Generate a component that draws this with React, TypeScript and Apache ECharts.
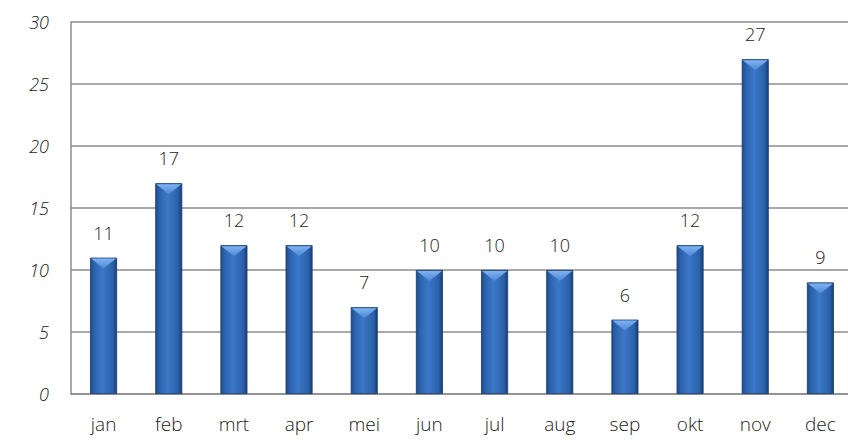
import React, { useEffect, useRef } from "react";
import * as echarts from "echarts";

const months = ["jan", "feb", "mrt", "apr", "mei", "jun", "jul", "aug", "sep", "okt", "nov", "dec"];
const values = [11, 17, 12, 12, 7, 10, 10, 10, 6, 12, 27, 9];
const yMin = 0;
const yMax = 30;
const yStep = 5;

const FONT = "'Open Sans', 'DejaVu Sans', sans-serif";

export default function App() {
  const ref = useRef<HTMLDivElement>(null);
  useEffect(() => {
    if (!ref.current) return;
    const chart = echarts.init(ref.current, undefined, { renderer: "svg" });
    const barGradient = new echarts.graphic.LinearGradient(0, 0, 1, 0, [
      { offset: 0, color: "#1d4c8c" },
      { offset: 0.15, color: "#2d63ad" },
      { offset: 0.45, color: "#3b78c8" },
      { offset: 0.85, color: "#2c61aa" },
      { offset: 1, color: "#183f75" },
    ]);
    chart.setOption({
      animation: false,
      grid: { left: 71, right: 7, top: 22, bottom: 48, containLabel: false },
      xAxis: {
        type: "category",
        data: months,
        axisLine: { lineStyle: { color: "#8c8c8c", width: 1.5 } },
        axisTick: { show: false },
        axisLabel: { color: "#222", fontFamily: FONT, fontSize: 19, fontWeight: 300, margin: 20 },
      },
      yAxis: {
        type: "value",
        min: yMin,
        max: yMax,
        interval: yStep,
        axisLine: { show: true, lineStyle: { color: "#8c8c8c", width: 1.5 } },
        axisTick: { show: false },
        splitLine: { lineStyle: { color: "#8c8c8c", width: 1.5 } },
        axisLabel: { color: "#222", fontFamily: FONT, fontSize: 18, fontWeight: 300, fontStyle: "italic", margin: 22 },
      },
      series: [
        {
          type: "bar",
          data: values,
          barWidth: 27,
          itemStyle: { color: barGradient, borderColor: "#163a6c", borderWidth: 0.8 },
          label: {
            show: true,
            position: "top",
            distance: 16,
            color: "#222",
            fontFamily: FONT,
            fontSize: 18,
            fontWeight: 300,
          },
          z: 2,
        },
        {
          type: "custom",
          data: values.map((v, i) => [i, v]),
          encode: { x: 0, y: 1 },
          z: 3,
          silent: true,
          renderItem: (params: any, api: any) => {
            const top = api.coord([api.value(0), api.value(1)]);
            const half = 13.5;
            const x0 = top[0] - half;
            const x1 = top[0] + half;
            const y = top[1];
            return {
              type: "polygon",
              shape: {
                points: [
                  [x0 + 1, y + 1],
                  [x1 - 1, y + 1],
                  [top[0], y + 11],
                ],
              },
              style: {
                fill: new echarts.graphic.LinearGradient(0, 0, 0, 1, [
                  { offset: 0, color: "#80b2f0" },
                  { offset: 1, color: "#4c88d6" },
                ]),
              },
            };
          },
        },
      ],
    });
    return () => chart.dispose();
  }, []);
  return (
    <div style={{ width: 848, height: 442, position: "absolute", left: 0, top: 0, overflow: "hidden" }}>
      <div ref={ref} style={{ width: 860, height: 442 }} />
    </div>
  );
}
